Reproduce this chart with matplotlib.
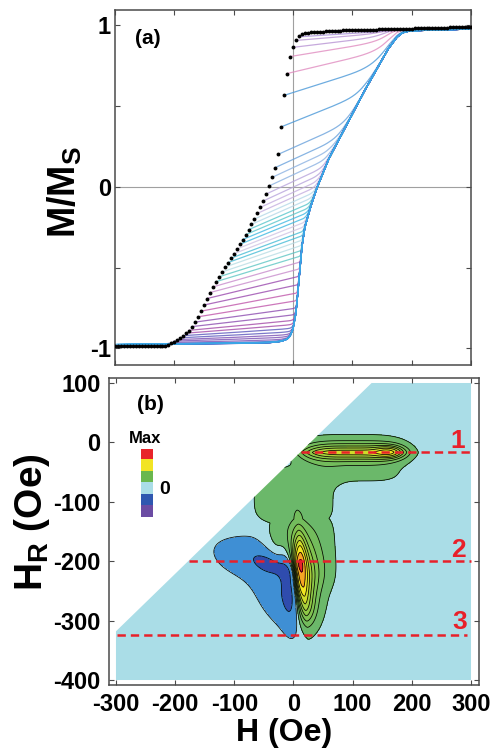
import numpy as np
import matplotlib
matplotlib.use("Agg")
import matplotlib.pyplot as plt
from matplotlib.patches import Polygon

plt.rcParams["font.family"] = ["Liberation Sans", "DejaVu Sans"]
plt.rcParams["font.weight"] = "bold"
plt.rcParams["axes.unicode_minus"] = False
plt.rcParams["mathtext.fontset"] = "custom"
plt.rcParams["mathtext.rm"] = "Liberation Sans:bold"
plt.rcParams["mathtext.it"] = "Liberation Sans:bold"
plt.rcParams["mathtext.bf"] = "Liberation Sans:bold"
plt.rcParams["lines.scale_dashes"] = False

# ---------------- (a) major loop + first-order reversal curves ----------------
REV_H = np.arange(-300, 305, 5)          # reversal fields (Oe)
REV_M = ([-0.985] * 18 +
         [-0.978, -0.970, -0.960, -0.950, -0.938, -0.924, -0.908, -0.890,
          -0.866, -0.838, -0.805, -0.770, -0.732, -0.692, -0.655, -0.620,
          -0.588, -0.558, -0.528, -0.498, -0.470, -0.443, -0.415,
          -0.386, -0.357, -0.327, -0.297, -0.266, -0.233, -0.200, -0.165,
          -0.128, -0.088, -0.045, 0.005, 0.058, 0.118, 0.200, 0.370,
          0.565, 0.700, 0.805, 0.862,
          0.905, 0.930, 0.942, 0.948, 0.952, 0.955] +
         [0.957, 0.958, 0.959, 0.960, 0.961, 0.962, 0.963, 0.964, 0.965, 0.966,
          0.967, 0.967, 0.968, 0.968, 0.969, 0.969, 0.970, 0.970, 0.971, 0.971,
          0.972, 0.972, 0.973, 0.973, 0.974, 0.974, 0.975, 0.975, 0.976, 0.976,
          0.977, 0.977, 0.978, 0.978, 0.979, 0.979, 0.980, 0.980, 0.981, 0.981,
          0.982, 0.982, 0.983, 0.983, 0.984, 0.984, 0.985, 0.985, 0.986, 0.986,
          0.987, 0.987, 0.988, 0.988])

# ascending major branch (lowest reversal curve)
ASC_H = [-300, -100, -40, -20, -10, -5, 0, 5, 10, 15, 20, 30, 40, 60, 80,
         100, 120, 140, 160, 175, 185, 195, 210, 300]
ASC_M = [-0.985, -0.982, -0.975, -0.962, -0.945, -0.925, -0.88, -0.78, -0.58,
         -0.37, -0.25, -0.12, -0.01, 0.17, 0.31, 0.45, 0.59, 0.72, 0.85,
         0.925, 0.955, 0.968, 0.975, 0.985]

CURVE_HR_MAX = 10

PALETTE_HR = [-300, -250, -215, -200, -190, -180, -170, -160, -150, -140,
              -130, -120, -110, -100, -90, -80, -70, -60, -50, -40, -30, -20,
              -10, 0, 10]
PALETTE_HEX = ["#3aa6e6", "#4a7ad4", "#5a5cc0", "#7a4fb4", "#5a56bc",
               "#a44aa8", "#8c4cb0", "#c056aa", "#9a4aae", "#c88ccc",
               "#5ec6c4", "#b8dde4", "#46bcd6", "#d0c4e4", "#3fb8e2",
               "#58c6cc", "#b4d8e8", "#c4aee0", "#b8a4dc", "#8cb2e2",
               "#6aa2dc", "#4a98d8", "#e08cc0", "#b894d4", "#a890d8"]

# ---------------- (b) FORC distribution ----------------
# lobes: centre (H, HR), width along / across the lobe axis, tilt of the axis
# (deg from the H axis), exponents along / across, weight
# upper ridge (3), lower ridge (4), negative lobe (4)
LOBE_H = [100, 163, 110, 11, 16, 20, 10, -82, -28, -8, -35]
LOBE_HR = [-17, -16, -55, -212, -228, -280, -205, -195, -250, -242, -208]
LOBE_SU = [74, 16, 65, 34, 50, 22, 8, 38, 50, 38, 24]
LOBE_SV = [9.7, 7, 12, 7, 13.5, 12, 5, 21, 22, 10, 10]
LOBE_TILT = [0, 0, 0, -88, -85, -85, -90, -17, -62, -85, -25]
LOBE_P = [4, 2, 4, 2, 2, 2, 2, 2, 2, 2, 2]
LOBE_Q = [1.4, 2, 2, 2, 1.4, 2, 2, 2, 2, 2, 2]
LOBE_W = [0.47, 0.20, 0.05, 0.30, 0.48, 0.10, 0.10, -0.11, -0.15, -0.42,
          -0.28]

# flat low-level background of the distribution
PLAT_H = [0, 12]
PLAT_HR = [-90, -180]
PLAT_SH = [60, 50]
PLAT_SHR = [42, 55]
PLAT_W = [0.085, 0.085]

LEVELS = [-2.0, -0.45, -0.25, -0.04, 0.04, 0.12, 0.19, 0.26, 0.33, 0.41,
          0.50, 0.62, 0.78, 2.0]
LEVEL_COLORS = ["#2c3c98", "#2f4cae", "#3f8fd4", "#aadde7", "#6bb86a",
                "#73bc5c", "#7fc250", "#8ec846", "#a8d03c", "#cfdc2a",
                "#f0e620", "#f5a623", "#e8242a"]

# measured region of the (H, HR) plane
DOMAIN_H = [-300, -300, 132, 300, 300]
DOMAIN_HR = [-400, -318, 100, 100, -400]

CUT_HR = [-16, -200, -325]
CUT_H0 = [12, -177, -298]
CUT_H1 = [300, 300, 293]
CUT_LABELS = ["1", "2", "3"]
CUT_LABEL_H = [277, 279, 281]
CUT_LABEL_HR = [2, -181, -303]

SCALE_COLORS = ["#e8242a", "#f2e424", "#6ab74e", "#aadde7", "#2f57b0",
                "#6b4ca3"]
RED = "#e8202a"


def reversal_curve(hr, mr):
    h = np.linspace(hr, 300, 260)
    k = np.interp(mr, [-1, -0.9, -0.2, 1], [0.012, 0.03, 0.03, 0.1])
    slope = 0.0017 * (1 + mr) * (1 - mr)
    drift = mr + slope * (h - hr)
    asc = np.interp(h, ASC_H, ASC_M)
    m = k * np.logaddexp(drift / k, asc / k)
    cap = np.maximum(np.interp(h, REV_H, REV_M), 0.95) - 0.008
    m = -0.01 * np.logaddexp(-m / 0.01, -cap / 0.01)
    return h, m


def curve_color(hr):
    return PALETTE_HEX[int(np.argmin(np.abs(np.array(PALETTE_HR) - hr)))]


def forc_field(h, hr):
    f = np.zeros_like(h)
    for h0, r0, su, sv, tilt, p, q, w in zip(LOBE_H, LOBE_HR, LOBE_SU,
                                             LOBE_SV, LOBE_TILT, LOBE_P,
                                             LOBE_Q, LOBE_W):
        t = np.radians(tilt)
        u = (h - h0) * np.cos(t) + (hr - r0) * np.sin(t)
        v = -(h - h0) * np.sin(t) + (hr - r0) * np.cos(t)
        f += w * np.exp(-0.5 * (np.abs(u / su) ** p + np.abs(v / sv) ** q))
    plat = np.zeros_like(h)
    for h0, r0, sh, sr, w in zip(PLAT_H, PLAT_HR, PLAT_SH, PLAT_SHR, PLAT_W):
        plat = np.maximum(plat, w * np.exp(-0.5 * (((h - h0) / sh) ** 4 +
                                                   ((hr - r0) / sr) ** 4)))
    return f + plat


def style_axes(ax):
    for s in ax.spines.values():
        s.set_color("#4a4a4a")
        s.set_linewidth(1.1)
    ax.tick_params(direction="in", top=True, right=True, length=3.5,
                   width=0.8, color="#4a4a4a", labelsize=17)


fig = plt.figure(figsize=(5.02, 7.53), dpi=100)

# ---- panel (a)
ax1 = fig.add_axes([0.2291, 0.5153, 0.7092, 0.4714])
ax1.axhline(0, color="#a0a0a0", lw=0.8, zorder=0)
ax1.axvline(0, color="#a0a0a0", lw=0.8, zorder=0)
# upper curves first so the lower ones (ascending branch) sit on top
for hr, mr in reversed(list(zip(REV_H, REV_M))):
    if hr > CURVE_HR_MAX:
        continue
    h, m = reversal_curve(hr, mr)
    ax1.plot(h, m, color=curve_color(hr), lw=0.9, alpha=0.8, zorder=2)
ax1.plot(REV_H, REV_M, "o", color="black", ms=2.8, mew=0, zorder=4)
ax1.set_xlim(-300, 300)
ax1.set_ylim(-1.103, 1.093)
ax1.set_xticks(range(-300, 301, 100))
ax1.set_xticklabels([])
ax1.set_yticks([-1, -0.5, 0, 0.5, 1])
ax1.set_yticklabels(["-1", "", "0", "", "1"])
style_axes(ax1)
ax1.tick_params(axis="y", pad=3)

# ---- panel (b)
ax2 = fig.add_axes([0.2171, 0.0903, 0.7371, 0.4077])
gh, gr = np.meshgrid(np.linspace(-300, 300, 601), np.linspace(-400, 100, 501))
field = forc_field(gh, gr)
cf = ax2.contourf(gh, gr, field, levels=LEVELS, colors=LEVEL_COLORS, zorder=1)
cl = ax2.contour(gh, gr, field, levels=LEVELS[1:-1], colors="black",
                 linewidths=0.55, negative_linestyles="solid", zorder=2)
domain = Polygon(np.column_stack([DOMAIN_H, DOMAIN_HR]), closed=True,
                 transform=ax2.transData)
cf.set_clip_path(domain)
cl.set_clip_path(domain)

for hr, h0, h1 in zip(CUT_HR, CUT_H0, CUT_H1):
    ax2.plot([h0, h1], [hr, hr], color=RED, lw=1.8, dashes=(6, 3.6), zorder=3)
for lab, h, hr in zip(CUT_LABELS, CUT_LABEL_H, CUT_LABEL_HR):
    ax2.text(h, hr, lab, color=RED, fontsize=19, fontweight="bold",
             ha="center", va="center", zorder=4)

ax2.set_xlim(-311.8, 313.5)
ax2.set_ylim(-408.4, 108.4)
ax2.set_xticks(range(-300, 301, 100))
ax2.set_yticks(range(-400, 101, 100))
style_axes(ax2)
ax2.tick_params(axis="y", pad=6)
ax2.tick_params(axis="x", pad=6)

# colour scale key
axk = fig.add_axes([141 / 502, 1 - 517 / 753, 12 / 502, 68 / 753])
axk.imshow(np.arange(len(SCALE_COLORS)).reshape(-1, 1),
           cmap=matplotlib.colors.ListedColormap(SCALE_COLORS),
           aspect="auto", interpolation="nearest")
axk.axis("off")
fig.text(145 / 502, 1 - 438 / 753, "Max", fontsize=12, ha="center",
         va="center")
fig.text(165 / 502, 1 - 490 / 753, "0", fontsize=14, ha="center",
         va="center")

# labels
fig.text(148 / 502, 1 - 39 / 753, "(a)", fontsize=15, ha="center",
         va="center")
fig.text(150 / 502, 1 - 405 / 753, "(b)", fontsize=15, ha="center",
         va="center")
fig.text(65 / 502, 1 - 192 / 753, r"$\mathrm{M/M_S}$", fontsize=27,
         rotation=90, ha="center", va="center")
fig.text(32 / 502, 1 - 522 / 753, r"$\mathrm{H_R}$ (Oe)", fontsize=28,
         rotation=90, ha="center", va="center")
fig.text(284 / 502, 1 - 733 / 753, "H (Oe)", fontsize=23, ha="center",
         va="center")

fig.savefig("out.png", dpi=100)
